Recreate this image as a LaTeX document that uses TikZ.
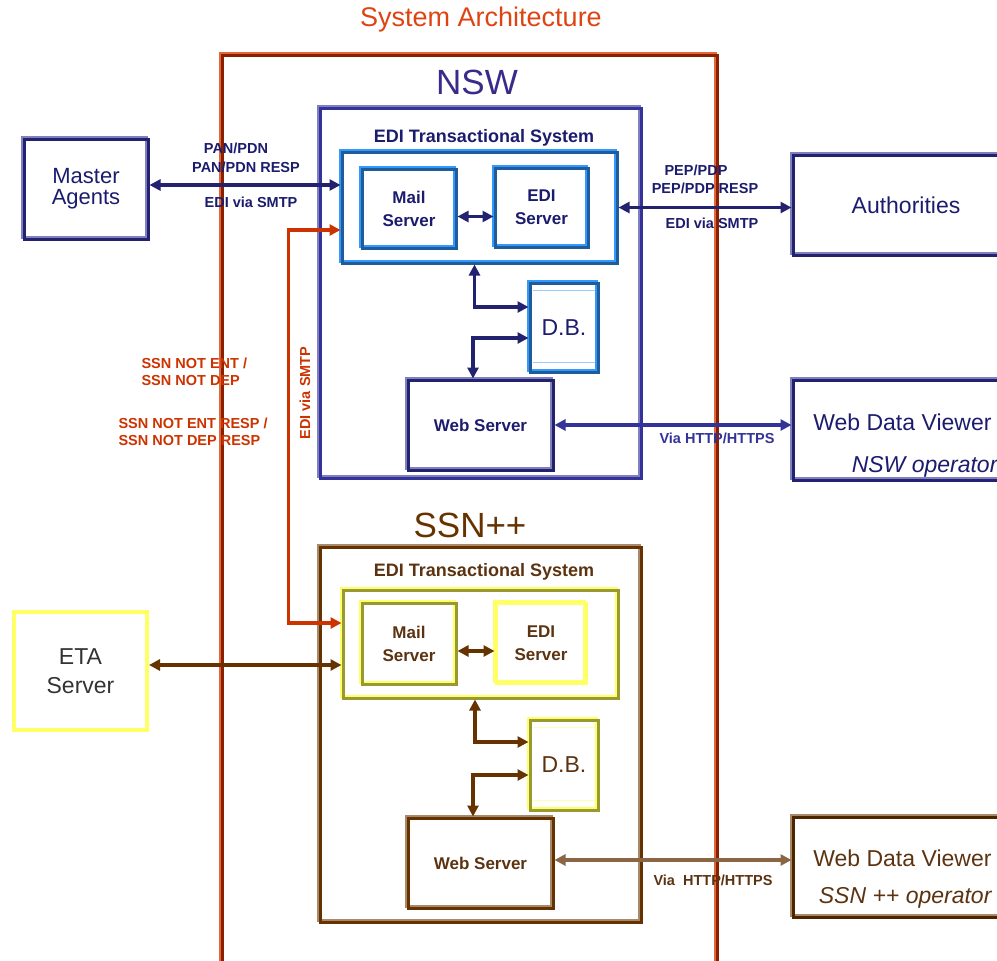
\documentclass[tikz,border=0pt]{standalone}
\usepackage{fontspec}
\setmainfont{Liberation Sans}
\usetikzlibrary{arrows.meta}

\definecolor{titlered}{HTML}{DD4411}
\definecolor{framelight}{HTML}{E0683A}
\definecolor{framedark}{HTML}{8B2000}
\definecolor{ssnred}{HTML}{CC3300}
\definecolor{navy}{HTML}{333399}
\definecolor{navylight}{HTML}{8080C0}
\definecolor{navydark}{HTML}{22226E}
\definecolor{navytext}{HTML}{1C1C6E}
\definecolor{nswlabel}{HTML}{3A2A8A}
\definecolor{skyblue}{HTML}{3399FF}
\definecolor{skypale}{HTML}{99CCFF}
\definecolor{skydark}{HTML}{1F5C99}
\definecolor{ssnbrown}{HTML}{663300}
\definecolor{ssnlight}{HTML}{A88A6A}
\definecolor{ssndark}{HTML}{4D2600}
\definecolor{ssntext}{HTML}{5C3311}
\definecolor{ssnline}{HTML}{8B6644}
\definecolor{ylw}{HTML}{FFFF66}
\definecolor{ylwpale}{HTML}{FFFFB0}
\definecolor{olive}{HTML}{999933}
\definecolor{etatext}{HTML}{333333}

\tikzset{
  twotone/.style 2 args={draw=#2, line width=3pt,
    preaction={draw=#1, line width=3pt, transform canvas={xshift=-2pt, yshift=2pt}}},
  box/.style={rectangle, inner sep=0pt, align=center},
  bigtxt/.style={font=\fontsize{23}{24}\selectfont},
  midtxt/.style={font=\bfseries\fontsize{17}{23}\selectfont, align=center},
  lbl/.style={font=\bfseries\fontsize{14.5}{17}\selectfont},
  arrN/.style={draw=navydark, line width=3.5pt, {Triangle[length=11pt,width=11pt]}-{Triangle[length=11pt,width=11pt]}},
  arrS/.style={draw=ssnbrown, line width=3.5pt, {Triangle[length=11pt,width=11pt]}-{Triangle[length=11pt,width=11pt]}},
  arrL/.style={draw=ssnline, line width=3.5pt, {Triangle[length=11pt,width=11pt]}-{Triangle[length=11pt,width=11pt]}},
  arrR/.style={draw=ssnred, line width=3.5pt, {Triangle[length=11pt,width=11pt]}-{Triangle[length=11pt,width=11pt]}},
  cyl/.style={draw=#1, line width=1.5pt, line cap=round},
}

\begin{document}
\begin{tikzpicture}[x=1pt,y=-1pt]
\useasboundingbox (0,0) rectangle (997,961);

% title and the outer system frame
\node[font=\fontsize{27}{30}\selectfont, text=titlered] (title) at (481,20) {System Architecture};
\draw[twotone={framelight}{framedark}] (222,55) rectangle (717,1000);

% ---------------- NSW ----------------
\node[font=\fontsize{35}{38}\selectfont, text=nswlabel] (nswlbl) at (477,82) {NSW};
\node[box, twotone={navylight}{navy}, minimum width=321pt, minimum height=370pt] (nsw) at (480.5,293) {};
\node[font=\bfseries\fontsize{18}{20}\selectfont, text=navytext] (ediNt) at (484,138) {EDI Transactional System};
\node[box, twotone={skyblue}{skydark}, minimum width=275pt, minimum height=111pt] (ediN) at (479.5,207.5) {};
\node[box, twotone={skyblue}{skydark}, minimum width=94pt, minimum height=79pt, midtxt, text=navytext] (mailN) at (409,208.5) {Mail\\Server};
\node[box, twotone={skyblue}{skydark}, minimum width=93pt, minimum height=79pt, midtxt, text=navytext] (ediSN) at (541.5,207.5) {EDI\\Server};
\node[box, twotone={skyblue}{skydark}, minimum width=68pt, minimum height=89pt, bigtxt, text=navytext] (dbN) at (564,327.5) {D.B.};
\draw[cyl=skypale] ([shift={(5pt,-9pt)}]dbN.north west) -- ([shift={(-5pt,-9pt)}]dbN.north east);
\draw[cyl=skypale] ([shift={(5pt,11pt)}]dbN.south west) -- ([shift={(-5pt,11pt)}]dbN.south east);
\node[box, twotone={navylight}{navydark}, minimum width=145pt, minimum height=90pt, midtxt, text=navytext] (webN) at (480.5,425) {Web Server};

\node[box, twotone={navylight}{navydark}, minimum width=124pt, minimum height=100pt, font=\fontsize{22}{21}\selectfont, text=navytext] (master) at (86,189) {Master\\Agents};
\node[box, twotone={navylight}{navydark}, minimum width=226pt, minimum height=100pt, bigtxt, text=navytext] (auth) at (906,205) {Authorities};
\node[box, twotone={navylight}{navydark}, minimum width=226pt, minimum height=100pt] (wdvN) at (906,430) {};
\node[anchor=east, bigtxt, text=navytext] (wdvNa) at (995,422) {Web Data Viewer};
\node[anchor=east, bigtxt, text=navytext] (wdvNb) at (1001,467) {\itshape NSW operator};

% NSW connectors
\draw[arrN] ([yshift=4pt]master.east) coordinate (ma) -- (ma -| ediN.west);
\draw[arrN] (ediN.east) -- (ediN.east -| auth.west);
\draw[arrN] ([yshift=-8pt]mailN.east) coordinate (me) -- (me -| ediSN.west);
\draw[arrN] ([xshift=-5pt]ediN.south) |- ([yshift=20.5pt]dbN.west);
\draw[arrN] ([yshift=-10.5pt]dbN.west) -| ([xshift=-7.5pt]webN.north);
\draw[arrN, draw=navy] (webN.east) -- (webN.east -| wdvN.west);

\node[lbl, text=navytext] (l1) at (236,148) {PAN/PDN};
\node[lbl, text=navytext] (l2) at (246,167) {PAN/PDN RESP};
\node[lbl, text=navytext] (l3) at (251,202) {EDI via SMTP};
\node[lbl, text=navytext] (l4) at (696,170) {PEP/PDP};
\node[lbl, text=navytext] (l5) at (705,188) {PEP/PDP RESP};
\node[lbl, text=navytext] (l6) at (712,223) {EDI via SMTP};
\node[lbl, text=navy] (l7) at (717,438) {Via HTTP/HTTPS};

% ---------------- SSN++ ----------------
\node[font=\fontsize{35}{38}\selectfont, text=ssnbrown] (ssnlbl) at (470,525) {SSN++};
\node[box, twotone={ssnlight}{ssnbrown}, minimum width=321pt, minimum height=375pt] (ssn) at (480.5,734.5) {};
\node[font=\bfseries\fontsize{18}{20}\selectfont, text=ssntext] (ediSt) at (484,572) {EDI Transactional System};
\node[box, twotone={ylw}{olive}, minimum width=275pt, minimum height=108pt] (ediS) at (480.5,644) {};
\node[box, twotone={ylw}{olive}, minimum width=94pt, minimum height=81pt, midtxt, text=ssntext] (mailS) at (409,643.5) {Mail\\Server};
\node[box, twotone={ylw}{ylw}, minimum width=90pt, minimum height=80pt, midtxt, text=ssntext] (ediSS) at (541,643) {EDI\\Server};
\node[box, twotone={ylw}{olive}, minimum width=68pt, minimum height=90pt, bigtxt, text=ssntext] (dbS) at (564,765) {D.B.};
\draw[cyl=ylwpale] ([shift={(5pt,-9pt)}]dbS.north west) -- ([shift={(-5pt,-9pt)}]dbS.north east);
\draw[cyl=ylwpale] ([shift={(5pt,11pt)}]dbS.south west) -- ([shift={(-5pt,11pt)}]dbS.south east);
\node[box, twotone={ssnlight}{ssnbrown}, minimum width=145pt, minimum height=90pt, midtxt, text=ssntext] (webS) at (480.5,863) {Web Server};

\node[box, draw=ylw, line width=4pt, minimum width=133pt, minimum height=118pt, font=\fontsize{23}{29}\selectfont, text=etatext] (eta) at (80.5,671) {ETA\\Server};
\node[box, twotone={ssnlight}{ssndark}, minimum width=226pt, minimum height=100pt] (wdvS) at (906,867) {};
\node[anchor=east, bigtxt, text=ssntext] (wdvSa) at (995,858) {Web Data Viewer};
\node[anchor=east, bigtxt, text=ssntext] (wdvSb) at (995,898) {\itshape SSN ++ operator};

% SSN++ connectors
\draw[arrS] ([yshift=6pt]eta.east) coordinate (ea) -- (ea -| ediS.west);
\draw[arrS] ([yshift=-7.5pt]mailS.east) coordinate (ms) -- (ms -| ediSS.west);
\draw[arrS] ([xshift=-5.5pt]ediS.south) |- ([yshift=23pt]dbS.west);
\draw[arrS] ([yshift=-10pt]dbS.west) -| ([xshift=-7.5pt]webS.north);
\draw[arrL] ([yshift=3pt]webS.east) coordinate (ws) -- (ws -| wdvS.west);
\node[lbl, text=ssntext] (l8) at (713,880) {Via\ \ HTTP/HTTPS};

% EDI link between the two transactional systems
\draw[arrR] ([yshift=-22.5pt]ediN.west) -- ++(-52,0) coordinate (rk) |- ([yshift=21pt]ediS.west);
\node[lbl, text=ssnred, rotate=90] (l9) at (305,393) {EDI via SMTP};
\node[lbl, text=ssnred, anchor=west, align=left] (l10) at (138,372) {SSN NOT ENT /\\SSN NOT DEP};
\node[lbl, text=ssnred, anchor=west, align=left] (l11) at (115,432) {SSN NOT ENT RESP /\\SSN NOT DEP RESP};
\end{tikzpicture}
\end{document}
